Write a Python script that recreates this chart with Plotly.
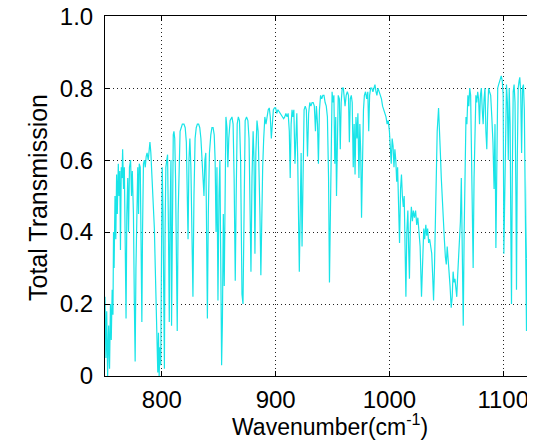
import plotly.graph_objects as go

# spectrum (wavenumber in cm-1, total transmission)
wavenumber = [
    750, 750.8, 751.5, 752.3, 753.2, 754.0, 754.8, 755.5, 756.3, 757.0, 757.5, 758.0, 758.8, 759.5,
    760.2, 760.8, 761.7, 762.3, 763.0, 763.6, 764.3, 765.0, 765.5, 766.3, 767.0, 768.0, 768.5, 769.2,
    770.0, 770.7, 771.5, 772.5, 773.3, 774.0, 775.0, 775.8, 776.5, 777.2, 778.0, 778.8, 779.5, 780.1,
    781.0, 781.8, 782.4, 783.0, 783.8, 784.6, 785.4, 786.2, 787.0, 788.0, 788.8, 789.5, 790.3, 791.0,
    791.8, 792.6, 793.4, 794.2, 795.0, 795.7, 796.4, 797.0, 797.6, 798.3, 799.0, 799.7, 800.3, 801.0,
    801.6, 802.2, 802.8, 803.5, 804.3, 805.0, 805.8, 806.5, 807.2, 808.0, 808.5, 809.2, 810.0, 810.6,
    811.3, 812.0, 812.8, 813.5, 814.3, 815.2, 816.0, 817.0, 818.0, 819.4, 820.5, 821.5, 822.3, 823.0,
    823.8, 824.6, 825.5, 826.5, 827.3, 828.2, 829.2, 830.2, 831.2, 832.3, 833.3, 834.3, 835.3, 836.2,
    837.0, 837.8, 838.6, 839.3, 840.0, 840.8, 841.8, 843.0, 844.0, 845.0, 846.0, 846.8, 847.6, 848.4,
    849.3, 850.2, 851.0, 851.8, 852.5, 853.2, 854.0, 854.8, 855.5, 856.3, 857.2, 858.0, 858.8, 860.0,
    861.6, 862.6, 863.5, 864.5, 865.3, 866.2, 867.2, 868.2, 869.2, 870.4, 871.3, 872.2, 873.2, 874.4,
    875.6, 876.6, 877.5, 878.3, 879.2, 880.2, 881.0, 881.8, 882.6, 883.6, 884.6, 885.4, 886.2, 887.0,
    887.8, 888.6, 889.5, 890.5, 891.5, 892.5, 893.5, 894.4, 895.3, 896.2, 897.1, 898.0, 899.0, 900.0,
    901.0, 902.0, 903.0, 904.0, 905.0, 906.0, 907.0, 908.0, 909.0, 910.0, 911.0, 912.0, 912.8, 913.6,
    914.4, 915.2, 916.0, 917.0, 917.8, 918.6, 919.4, 920.0, 920.8, 921.6, 922.4, 923.2, 924.0, 925.0,
    926.0, 927.0, 928.0, 929.0, 930.0, 931.0, 932.0, 933.0, 934.0, 935.0, 935.8, 936.8, 937.6, 938.5,
    939.5, 940.5, 941.5, 942.5, 943.5, 944.5, 945.5, 946.5, 947.3, 948.0, 948.8, 949.6, 950.4, 951.2,
    952.0, 952.8, 953.5, 954.2, 955.0, 956.0, 956.8, 957.6, 958.5, 959.5, 960.3, 961.0, 962.0, 963.0,
    964.0, 964.8, 965.6, 966.5, 967.3, 968.2, 969.0, 969.8, 970.6, 971.5, 972.3, 973.2, 974.0, 974.8,
    975.5, 976.3, 977.2, 978.0, 979.0, 980.0, 981.0, 981.8, 982.6, 983.5, 984.5, 985.5, 986.5, 987.3,
    988.2, 989.0, 990.0, 991.0, 992.0, 993.0, 994.0, 995.0, 996.0, 997.0, 998.0, 999.0, 1000.0, 1000.8,
    1001.6, 1002.4, 1003.2, 1004.0, 1004.8, 1005.6, 1006.4, 1007.2, 1008.0, 1008.9, 1009.8, 1010.6,
    1011.4, 1012.2, 1013.0, 1013.8, 1014.5, 1015.3, 1016.2, 1017.0, 1017.6, 1018.4, 1019.3, 1020.2,
    1021.0, 1022.0, 1023.0, 1024.0, 1025.0, 1026.0, 1027.0, 1028.2, 1029.2, 1030.2, 1031.0, 1032.0,
    1032.8, 1033.6, 1034.5, 1035.4, 1036.3, 1037.2, 1038.0, 1038.8, 1039.6, 1040.4, 1041.2, 1042.0,
    1043.2, 1044.0, 1044.8, 1045.6, 1046.5, 1047.4, 1048.3, 1049.2, 1050.0, 1050.8, 1051.6, 1052.5,
    1053.3, 1054.3, 1055.2, 1056.0, 1056.8, 1057.6, 1058.4, 1059.2, 1060.0, 1060.8, 1061.6, 1062.4,
    1063.2, 1064.0, 1064.9, 1065.7, 1066.5, 1067.3, 1068.1, 1069.0, 1069.8, 1070.6, 1071.4, 1072.2,
    1073.0, 1073.6, 1074.4, 1075.2, 1076.0, 1076.8, 1077.6, 1078.4, 1079.2, 1080.0, 1080.8, 1081.6,
    1082.4, 1083.2, 1084.0, 1084.8, 1085.6, 1086.4, 1087.2, 1088.0, 1089.0, 1090.0, 1091.0, 1092.0,
    1092.8, 1093.6, 1094.4, 1095.2, 1096.0, 1097.0, 1098.3, 1099.2, 1100.0, 1100.6, 1101.4, 1102.2,
    1102.9, 1103.7, 1104.5, 1105.3, 1106.1, 1106.8, 1107.3, 1108.0, 1108.8, 1109.6, 1110.4, 1111.2,
    1111.7, 1112.4, 1113.2, 1114.0, 1114.6, 1115.4, 1116.2, 1117.0, 1117.8, 1118.6, 1119.4, 1120.5,
    1121.3, 1122.2, 1123.0, 1124.0, 1125.0, 1126.4, 1127.4, 1128.4, 1129.4, 1130.4, 1131.4, 1132.4,
    1133.4, 1134.4, 1135.0,
]

transmission = [
    0.22, 0.05, 0.18, 0.00, 0.14, 0.02, 0.20, 0.10, 0.24, 0.17, 0.40, 0.30, 0.50, 0.38,
    0.56, 0.45, 0.59, 0.50, 0.57, 0.35, 0.58, 0.55, 0.63, 0.52, 0.58, 0.30, 0.16, 0.45,
    0.55, 0.40, 0.58, 0.60, 0.50, 0.57, 0.45, 0.20, 0.04, 0.30, 0.52, 0.58, 0.45, 0.59,
    0.58, 0.35, 0.15, 0.40, 0.59, 0.60, 0.58, 0.61, 0.62, 0.60, 0.64, 0.65, 0.62, 0.58,
    0.54, 0.48, 0.41, 0.30, 0.20, 0.06, 0.01, 0.12, 0.00, 0.08, 0.03, 0.35, 0.58, 0.45,
    0.10, 0.02, 0.40, 0.58, 0.60, 0.615, 0.40, 0.15, 0.45, 0.60, 0.14, 0.55, 0.67, 0.68,
    0.66, 0.55, 0.30, 0.125, 0.45, 0.62, 0.68, 0.69, 0.70, 0.70, 0.69, 0.65, 0.55, 0.38,
    0.60, 0.66, 0.58, 0.40, 0.22, 0.50, 0.66, 0.69, 0.70, 0.70, 0.69, 0.66, 0.60, 0.54,
    0.50, 0.60, 0.62, 0.40, 0.16, 0.45, 0.62, 0.67, 0.69, 0.69, 0.67, 0.60, 0.40, 0.58,
    0.21, 0.50, 0.60, 0.30, 0.03, 0.15, 0.45, 0.25, 0.60, 0.72, 0.69, 0.58, 0.66, 0.71,
    0.72, 0.70, 0.55, 0.265, 0.50, 0.70, 0.72, 0.71, 0.60, 0.227, 0.20, 0.55, 0.71, 0.72,
    0.71, 0.66, 0.50, 0.29, 0.55, 0.68, 0.60, 0.34, 0.62, 0.71, 0.68, 0.58, 0.45, 0.28,
    0.50, 0.58, 0.66, 0.72, 0.70, 0.73, 0.74, 0.745, 0.72, 0.66, 0.70, 0.74, 0.745, 0.745,
    0.73, 0.74, 0.735, 0.73, 0.725, 0.72, 0.715, 0.72, 0.73, 0.72, 0.73, 0.68, 0.55, 0.70,
    0.74, 0.72, 0.74, 0.59, 0.70, 0.73, 0.60, 0.48, 0.29, 0.45, 0.62, 0.36, 0.60, 0.74,
    0.75, 0.74, 0.61, 0.73, 0.76, 0.75, 0.76, 0.76, 0.75, 0.68, 0.75, 0.70, 0.59, 0.74,
    0.78, 0.77, 0.78, 0.78, 0.76, 0.75, 0.72, 0.55, 0.26, 0.45, 0.72, 0.79, 0.76, 0.78,
    0.59, 0.72, 0.50, 0.70, 0.78, 0.77, 0.63, 0.76, 0.80, 0.80, 0.78, 0.75, 0.78, 0.79,
    0.78, 0.65, 0.77, 0.78, 0.76, 0.58, 0.70, 0.56, 0.72, 0.66, 0.73, 0.55, 0.70, 0.62,
    0.44, 0.60, 0.74, 0.78, 0.79, 0.77, 0.79, 0.68, 0.78, 0.80, 0.80, 0.79, 0.80, 0.81,
    0.79, 0.78, 0.80, 0.79, 0.78, 0.77, 0.75, 0.74, 0.73, 0.72, 0.70, 0.71, 0.68, 0.62,
    0.59, 0.66, 0.64, 0.58, 0.63, 0.60, 0.54, 0.58, 0.50, 0.37, 0.52, 0.56,
    0.50, 0.47, 0.50, 0.35, 0.22, 0.40, 0.46, 0.34, 0.27, 0.42, 0.47, 0.43,
    0.46, 0.44, 0.46, 0.42, 0.44, 0.40, 0.36, 0.22, 0.36, 0.41, 0.38, 0.42,
    0.39, 0.41, 0.37, 0.38, 0.36, 0.34, 0.28, 0.21, 0.30, 0.40, 0.55, 0.68,
    0.745, 0.70, 0.62, 0.55, 0.48, 0.42, 0.38, 0.33, 0.31, 0.36, 0.33, 0.28,
    0.25, 0.19, 0.22, 0.29, 0.26, 0.27, 0.24, 0.22, 0.28, 0.33, 0.40, 0.43,
    0.55, 0.30, 0.14, 0.40, 0.60, 0.72, 0.70, 0.78, 0.75, 0.80, 0.78, 0.60,
    0.45, 0.30, 0.55, 0.72, 0.78, 0.76, 0.79, 0.77, 0.70, 0.78, 0.80, 0.74,
    0.70, 0.77, 0.80, 0.68, 0.63, 0.74, 0.80, 0.79, 0.78, 0.72, 0.65, 0.52,
    0.70, 0.356, 0.55, 0.80, 0.81, 0.82, 0.834, 0.82, 0.78, 0.34, 0.55, 0.78,
    0.81, 0.76, 0.60, 0.80, 0.70, 0.38, 0.20, 0.55, 0.79, 0.81, 0.76, 0.50,
    0.24, 0.60, 0.80, 0.82, 0.83, 0.79, 0.62, 0.80, 0.81, 0.74, 0.45, 0.125,
    0.50, 0.78, 0.82, 0.83, 0.83, 0.842, 0.83, 0.81, 0.80, 0.72, 0.55, 0.30,
    0.06, 0.40, 0.70,
]

x_ticks = [800, 900, 1000, 1100]
y_ticks = [0, 0.2, 0.4, 0.6, 0.8, 1.0]
y_tick_labels = ["0", "0.2", "0.4", "0.6", "0.8", "1.0"]

W, H = 535, 440
left, right, top, bottom = 97, 0, 8, 72
font = "Arial, Liberation Sans, sans-serif"

fig = go.Figure(go.Scatter(
    x=wavenumber, y=transmission, mode="lines",
    line=dict(color="#18e4e8", width=1.2),
    hoverinfo="skip",
))

fig.update_layout(
    width=W, height=H,
    margin=dict(l=left, r=right, t=top, b=bottom, autoexpand=False),
    paper_bgcolor="white", plot_bgcolor="white",
    showlegend=False,
    font=dict(family=font, size=24, color="black"),
)

fig.update_xaxes(
    range=[750, 1135], tickvals=x_ticks, automargin=False,
    showline=True, linecolor="black", linewidth=1, mirror="ticks",
    ticks="inside", ticklen=5, tickcolor="black",
    showgrid=True, gridcolor="#222222", gridwidth=1, griddash="1px,3px",
    zeroline=False, ticklabelstandoff=2, ticklabeloverflow="allow",
)
fig.update_yaxes(
    range=[0, 1.0005], tickvals=y_ticks, ticktext=y_tick_labels, automargin=False,
    showline=True, linecolor="black", linewidth=1,
    ticks="inside", ticklen=5, tickcolor="black",
    showgrid=True, gridcolor="#222222", gridwidth=1, griddash="1px,3px",
    zeroline=False, ticklabelstandoff=6, ticklabeloverflow="allow",
)

plot_w = W - left - right
plot_h = H - top - bottom

# axis titles placed as annotations in pixel terms
fig.add_annotation(
    text="Wavenumber(cm<sup>-1</sup>)", xref="paper", yref="paper",
    x=(321.5 - left) / plot_w, y=-(417 - (H - bottom)) / plot_h,
    xanchor="center", yanchor="middle", showarrow=False,
    font=dict(family=font, size=23, color="black"),
)
fig.add_annotation(
    text="Total Transmission", xref="paper", yref="paper",
    x=(30 - left) / plot_w, y=((H - bottom) - 190) / plot_h,
    xanchor="center", yanchor="middle", showarrow=False, textangle=-90,
    font=dict(family=font, size=25, color="black"),
)

fig.write_html("out.html")
